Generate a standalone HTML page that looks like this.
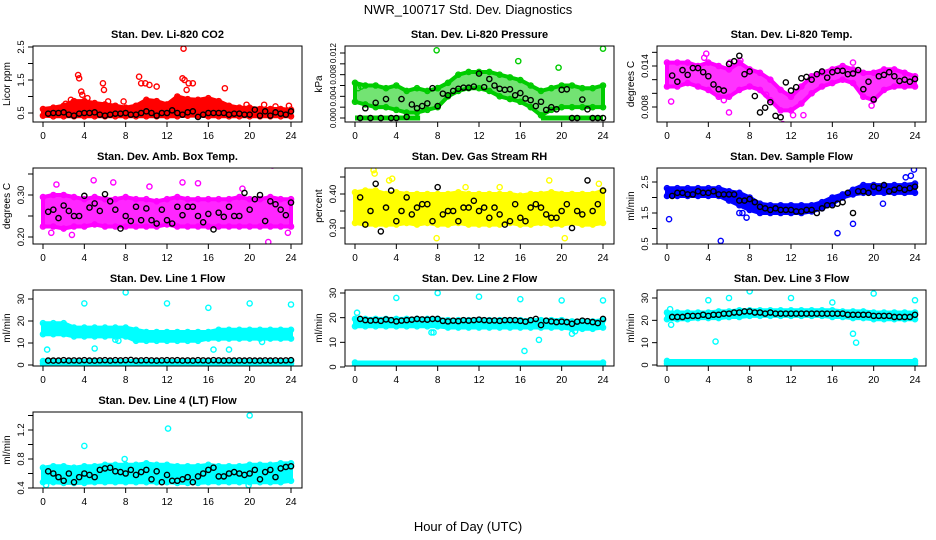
<!DOCTYPE html>
<html><head><meta charset="utf-8">
<style>
body{margin:0;background:#fff;}
svg{display:block;font-family:"Liberation Sans",sans-serif;}
</style></head>
<body>
<svg id="c" width="936" height="540" viewBox="0 0 936 540">
<rect width="936" height="540" fill="#fff"/>
<text x="468" y="14" text-anchor="middle" font-size="13">NWR_100717 Std. Dev. Diagnostics</text>
<text x="468" y="531" text-anchor="middle" font-size="13">Hour of Day (UTC)</text>
</svg>
<script>
const H25=[0,1,2,3,4,5,6,7,8,9,10,11,12,13,14,15,16,17,18,19,20,21,22,23,24];
const HB=[0.5,1,1.5,2,2.5,3,3.5,4,4.5,5,5.5,6,6.5,7,7.5,8,8.5,9,9.5,10,10.5,11,11.5,12,12.5,13,13.5,14,14.5,15,15.5,16,16.5,17,17.5,18,18.5,19,19.5,20,20.5,21,21.5,22,22.5,23,23.5,24];
const xTicks=[0,4,8,12,16,20,24];

// P1 CO2
const co2Hi=[.62,.66,.72,.86,.86,.8,.76,.72,.66,.72,.9,.86,.76,1.0,.92,.9,.95,.86,.72,.66,.66,.62,.62,.62,.6];
const co2Lo=[.42,.4,.4,.4,.4,.4,.4,.4,.4,.4,.4,.4,.4,.4,.42,.42,.4,.4,.4,.4,.4,.4,.4,.4,.4];
const co2OutX=[3.4,3.5,3.7,3.8,4.3,5.8,5.9,6.3,7.8,9.3,9.5,9.9,10.3,11,13.6,13.5,13.7,13.9,14.1,14.5,17.6,19.7,21.4,22.5,23.8,2.2,2.7];
const co2OutY=[1.65,1.55,1.15,1.05,.95,1.4,1.2,.85,.85,1.6,1.4,1.4,1.35,1.3,2.45,1.55,1.5,1.2,1.4,1.4,1.25,.75,.75,.7,.72,.78,.9];
const co2Blk=[.48,.5,.5,.52,.45,.42,.48,.5,.5,.52,.45,.42,.45,.48,.48,.5,.45,.45,.5,.55,.5,.42,.5,.5,.58,.5,.45,.52,.55,.38,.45,.5,.5,.5,.5,.45,.48,.48,.45,.45,.6,.42,.55,.42,.52,.48,.45,.55];
// P2 pressure
const prHi=[.0065,.006,.006,.0055,.006,.005,.0055,.005,.0055,.0065,.008,.0085,.0085,.0085,.008,.0075,.007,.006,.005,.0055,.006,.006,.0055,.0055,.006];
const prLo=[.003,.0025,.002,.002,.0015,.001,.001,.0015,.002,.004,.005,.0055,.0055,.005,.004,.0035,.003,.002,.0005,.0015,.002,.002,.002,.002,.002];
const prZeroH=[0,6.3,18,24];
const prOutX=[7.9,15.8,19.7,24,0.3,8,0.6];
const prOutY=[.0125,.0105,.0093,.0128,.0055,.0055,.0058];
const prBlk=[0,.0018,0,.0028,0,.0035,0,0,.0035,.0002,.0025,.0018,.0022,.0027,.0055,.0022,.0045,.0042,.005,.0054,.0056,.0056,.0058,.0082,.0057,.0072,.006,.0054,.0052,.0053,.0042,.0046,.0036,.0033,.0022,.003,.0015,.002,.0016,.0052,.0053,0,0,.0034,.0016,0,0,0];
// P3 Li-820 temp
const tHi=[.0145,.0145,.0145,.014,.0145,.014,.0135,.0145,.0135,.013,.012,.0105,.0095,.011,.0125,.013,.0135,.014,.0135,.013,.013,.0135,.0135,.013,.0125];
const tLo=[.011,.011,.0115,.011,.0105,.0095,.0095,.0105,.011,.0105,.009,.0075,.0075,.0085,.01,.011,.0115,.012,.0115,.0095,.009,.0105,.011,.011,.011];
const tOutX=[.4,3.8,6.1,6,7.1,11.2,12.2,9.6,13.2,19.8,18,3.6,5.5];
const tOutY=[.0088,.0158,.0145,.0072,.0148,.0055,.0068,.0098,.0068,.0082,.0145,.0152,.009];
const tBlk=[.0126,.0117,.0134,.0127,.0137,.0137,.0131,.0125,.0113,.0106,.0104,.0143,.0147,.0155,.0128,.0132,.0096,.0072,.0079,.0087,.0067,.0065,.0116,.0104,.0109,.0122,.0124,.012,.0128,.0132,.0123,.0131,.0133,.0133,.0128,.0129,.0134,.0106,.0117,.0091,.0125,.0127,.0131,.0125,.0118,.012,.0117,.0121];
// P4 amb box temp
const aHi=[.295,.3,.3,.295,.29,.295,.29,.29,.295,.29,.29,.285,.29,.295,.29,.29,.29,.29,.29,.295,.29,.29,.295,.29,.29];
const aLo=[.225,.225,.22,.225,.225,.23,.225,.225,.225,.225,.225,.225,.23,.225,.225,.225,.225,.225,.225,.225,.225,.225,.225,.225,.225];
const aOutX=[.8,1.3,4.9,13.5,15,21.8,22.2,23.7,2.8,6.8,10.3,19.3];
const aOutY=[.21,.325,.335,.33,.328,.188,.37,.21,.205,.33,.32,.315];
const aBlk=[.26,.265,.245,.275,.262,.25,.25,.298,.27,.28,.262,.302,.285,.265,.22,.25,.238,.272,.24,.268,.24,.232,.265,.24,.232,.272,.252,.272,.272,.25,.235,.255,.218,.258,.248,.272,.25,.25,.305,.265,.29,.3,.238,.285,.278,.265,.252,.282];
// P5 RH
const rhHi=[.405,.41,.41,.4,.405,.4,.4,.4,.4,.4,.405,.4,.4,.4,.4,.4,.395,.4,.4,.405,.4,.4,.4,.4,.41];
const rhLo=[.315,.31,.31,.31,.31,.315,.31,.315,.31,.31,.315,.31,.31,.31,.31,.315,.31,.31,.315,.31,.31,.315,.31,.31,.315];
const rhOutX=[1.8,1.9,3.3,10.7,14,18.8,7.9,20.3,3.6,23.6];
const rhOutY=[.47,.46,.44,.42,.42,.44,.27,.27,.445,.43];
const rhBlk=[.39,.31,.35,.43,.29,.36,.41,.32,.35,.39,.34,.36,.37,.37,.32,.42,.34,.35,.35,.32,.36,.36,.38,.35,.36,.33,.36,.34,.31,.32,.37,.33,.32,.36,.37,.36,.34,.33,.33,.35,.37,.30,.35,.34,.44,.35,.37,.41];
// P6 sample flow
const sfHi=[2.3,2.3,2.3,2.3,2.3,2.3,2.2,2.15,2.0,1.8,1.75,1.75,1.75,1.75,1.75,1.85,2.0,2.1,2.25,2.4,2.4,2.4,2.4,2.4,2.45];
const sfLo=[2.05,2.05,2.05,2.05,2.05,2.05,1.9,1.75,1.6,1.5,1.5,1.5,1.5,1.5,1.55,1.65,1.8,2.0,2.1,2.15,2.15,2.15,2.15,2.15,2.15];
const sfOutX=[.2,5.2,16.5,18,20.9,23.9,23.1,7.7,7,7.3,23.6];
const sfOutY=[1.3,.6,.85,1.15,1.8,2.9,2.65,1.35,1.5,1.5,2.7];
const sfBlk=[2.05,2.15,2.15,2.1,2.1,2.2,2.15,2.15,2.2,2.1,2.1,2.1,2.1,1.9,1.9,1.95,1.85,1.7,1.65,1.6,1.65,1.6,1.6,1.6,1.55,1.55,1.6,1.6,1.5,1.65,1.75,1.75,1.8,1.85,2.15,1.5,2.2,2.2,2.15,2.35,2.3,2.4,2.2,2.25,2.3,2.25,2.3,2.35];
// P7 line 1
const l1Hi=[19,19,19,17,17,17,17,17,17,16,15,15,15,15,15,15,15,16,16,16,16,16,16,16,16];
const l1Lo=[14,14,14,13,13,13,13,13,13,11,11,11,11,11,11,11,12,12,12,12,12,12,12,12,12];
const l1StripH=[0,24];
const l1StripHi=[1.8,1.8];
const l1StripLo=[0.6,0.6];
const l1OutX=[.4,4,5,8,12,16,16.5,18,20,24,21.2,7,7.3];
const l1OutY=[7,28,7.5,33,28,26,7,7,28,27.5,10.5,11.5,11];
const l1Blk=[2,2,2,2.2,2,2.1,2,2.2,2,2,2.1,2.2,2,2.2,2.1,2.2,2.3,2,2.1,2.2,2.1,2,2.1,2.2,2.1,2.2,2,2.1,2,2.2,2.1,2,2.2,2.1,2,2.1,2,2.1,2,2.1,2,2,2.1,2,2.1,2,2.1,2.2];
// P8 line 2
const l2Hi=[19.5,19.5,19.5,19.5,19.5,19.5,19.5,19.5,19.5,19,19,19,19,19,19,19,19,19,19,19,19,18.5,18.5,18.5,19];
const l2Lo=[16.5,16.5,16.5,16.5,16.5,16.5,16.5,16.5,16.5,16,16,16,16,16,16,16,16,16,16,16,16,15.5,15.5,15.5,16];
const l2StripH=[0,24];
const l2StripHi=[1.8,1.8];
const l2StripLo=[0.6,0.6];
const l2OutX=[.2,4,8,12,16,16.4,17.8,20,24,7.4,7.6,21,21.3];
const l2OutY=[22,28,30,28.5,27.5,6.5,11,27,27,14,14,13.5,14.5];
const l2Blk=[19.5,19,18.8,19,18.7,19.3,19,18.5,18.8,19,19.2,19.5,19.3,19.2,19.5,19.5,18.7,18.5,18.8,18.6,19,18.8,19,19.2,19,18.8,18.9,18.7,19,19,19,18.7,18.4,19,19.5,17,18.8,18.5,18.2,18.4,18.2,17.5,18.4,18.8,18.6,18.2,17.8,19.5];
// P9 line 3
const l3Hi=[23.5,23.5,23.5,23.5,23.5,24,24,24.5,24.5,24.5,24.5,24.5,24.5,24.5,24.5,24.5,24.5,24,24,24,23.5,23.5,23.5,23.5,23.5];
const l3Lo=[20.5,20.5,20.5,21,21,21,21.5,21.5,22,22,22,22,22,22,22,22,21.5,21.5,21,21,20.5,20.5,20.5,20.5,20.5];
const l3StripH=[0,24];
const l3StripHi=[1.8,1.8];
const l3StripLo=[0.6,0.6];
const l3OutX=[4,6,8,12,16,4.7,18,18.3,20,24,.3,.4];
const l3OutY=[29,30,33,30,28,10.5,14,10,32,29,25,18];
const l3Blk=[21.5,21.5,21.5,22,22,22,22.5,22,22.5,22.5,23,23,23.5,23.5,24,24,23.5,23.5,23,23.5,23,23,23,23,23,23,23,23,23,23,23,23,23,23,22.5,22.5,22.5,22.5,22.5,22,22,22,22,21.5,21.5,21.5,21.5,22.5];
// P10 line 4
const l4Hi=[.68,.7,.7,.68,.7,.7,.72,.72,.72,.72,.74,.72,.72,.7,.7,.7,.72,.7,.7,.7,.72,.72,.72,.74,.74];
const l4Lo=[.48,.48,.47,.47,.47,.48,.48,.48,.48,.48,.48,.48,.48,.47,.47,.47,.48,.48,.48,.48,.48,.48,.48,.48,.5];
const l4OutX=[4,12.1,20,7.9,.3,19.9];
const l4OutY=[.98,1.22,1.4,.8,.44,.44];
const l4Blk=[.63,.6,.55,.5,.6,.48,.55,.6,.58,.55,.65,.67,.68,.63,.62,.6,.65,.58,.62,.65,.52,.63,.48,.58,.5,.5,.52,.55,.48,.56,.6,.65,.68,.56,.56,.6,.62,.6,.58,.6,.65,.52,.62,.65,.55,.67,.69,.7];

const svg=document.getElementById('c');
const NS='http://www.w3.org/2000/svg';
function mk(tag,attrs,parent){const e=document.createElementNS(NS,tag);for(const k in attrs)e.setAttribute(k,attrs[k]);(parent||svg).appendChild(e);return e;}

const colLeft=[33,345,657], rowTop=[46,168,290,412], BW=269, BH=76;
const panels=[
 {id:'co2',t:'Stan. Dev. Li-820 CO2',yl:'Licor ppm',c:'#ff0000',op:1,fs:9.5,r:0,cl:0,v1:.5,p1:67,v2:2.5,p2:1,ticks:[.5,1,1.5,2,2.5],lab:{'0.5':'0.5','1.5':'1.5','2.5':'2.5'},hi:co2Hi,lo:co2Lo,ox:co2OutX,oy:co2OutY,blk:co2Blk},
 {id:'pressure',t:'Stan. Dev. Li-820 Pressure',yl:'kPa',c:'#00cc00',op:0.55,fs:8,r:0,cl:1,v1:0,p1:72,v2:.012,p2:7,ticks:[0,.002,.004,.006,.008,.01,.012],lab:{'0':'0.000','0.004':'0.004','0.008':'0.008','0.012':'0.012'},hi:prHi,lo:prLo,ox:prOutX,oy:prOutY,blk:prBlk,zero:prZeroH},
 {id:'li820-temp',t:'Stan. Dev. Li-820 Temp.',yl:'degrees C',c:'#ff00ff',op:0.8,fs:9.5,r:0,cl:2,v1:.014,p1:20,v2:.008,p2:61,ticks:[.008,.01,.012,.014,.016],lab:{'0.008':'0.008','0.014':'0.014'},hi:tHi,lo:tLo,ox:tOutX,oy:tOutY,blk:tBlk},
 {id:'amb-box-temp',t:'Stan. Dev. Amb. Box Temp.',yl:'degrees C',c:'#ff00ff',op:0.85,fs:9.5,r:1,cl:0,v1:.3,p1:27,v2:.2,p2:69,ticks:[.2,.25,.3,.35],lab:{'0.2':'0.20','0.3':'0.30'},hi:aHi,lo:aLo,ox:aOutX,oy:aOutY,blk:aBlk},
 {id:'gas-rh',t:'Stan. Dev. Gas Stream RH',yl:'percent',c:'#ffff00',op:1,fs:9.5,r:1,cl:1,v1:.4,p1:26,v2:.3,p2:60,ticks:[.3,.35,.4,.45],lab:{'0.3':'0.30','0.4':'0.40'},hi:rhHi,lo:rhLo,ox:rhOutX,oy:rhOutY,blk:rhBlk},
 {id:'sample-flow',t:'Stan. Dev. Sample Flow',yl:'ml/min',c:'#0000ff',op:1,fs:9.5,r:1,cl:2,v1:2.5,p1:14,v2:.5,p2:76,ticks:[.5,1,1.5,2,2.5],lab:{'0.5':'0.5','1.5':'1.5','2.5':'2.5'},hi:sfHi,lo:sfLo,ox:sfOutX,oy:sfOutY,blk:sfBlk},
 {id:'line1-flow',t:'Stan. Dev. Line 1 Flow',yl:'ml/min',c:'#00ffff',op:1,fs:9.5,r:2,cl:0,v1:0,p1:75,v2:30,p2:9,ticks:[0,10,20,30],lab:{'0':'0','10':'10','20':'20','30':'30'},hi:l1Hi,lo:l1Lo,ox:l1OutX,oy:l1OutY,blk:l1Blk,sH:l1StripH,sHi:l1StripHi,sLo:l1StripLo},
 {id:'line2-flow',t:'Stan. Dev. Line 2 Flow',yl:'ml/min',c:'#00ffff',op:1,fs:9.5,r:2,cl:1,v1:0,p1:77,v2:30,p2:3,ticks:[0,10,20,30],lab:{'0':'0','10':'10','20':'20','30':'30'},hi:l2Hi,lo:l2Lo,ox:l2OutX,oy:l2OutY,blk:l2Blk,sH:l2StripH,sHi:l2StripHi,sLo:l2StripLo},
 {id:'line3-flow',t:'Stan. Dev. Line 3 Flow',yl:'ml/min',c:'#00ffff',op:1,fs:9.5,r:2,cl:2,v1:0,p1:75,v2:30,p2:8,ticks:[0,10,20,30],lab:{'0':'0','10':'10','20':'20','30':'30'},hi:l3Hi,lo:l3Lo,ox:l3OutX,oy:l3OutY,blk:l3Blk,sH:l3StripH,sHi:l3StripHi,sLo:l3StripLo},
 {id:'line4-flow',t:'Stan. Dev. Line 4 (LT) Flow',yl:'ml/min',c:'#00ffff',op:1,fs:9.5,r:3,cl:0,v1:.4,p1:76,v2:1.2,p2:18,ticks:[.4,.6,.8,1,1.2,1.4],lab:{'0.4':'0.4','0.8':'0.8','1.2':'1.2'},hi:l4Hi,lo:l4Lo,ox:l4OutX,oy:l4OutY,blk:l4Blk}
];

panels.forEach(p=>{
 const L=colLeft[p.cl], T=rowTop[p.r];
 const xs=h=>L+10+h*(248/24);
 const ys=v=>T+p.p1+(v-p.v1)*(p.p2-p.p1)/(p.v2-p.v1);
 const g=mk('g',{});
 
 
 const ti=mk('text',{x:L+BW/2,y:T-8,'text-anchor':'middle','font-size':'11','font-weight':'bold'},g);ti.textContent=p.t;
 
 
 const clip='cl'+p.id;
 const cp=mk('clipPath',{id:clip},g);mk('rect',{x:L,y:T,width:BW,height:BH},cp);
 const data=mk('g',{'clip-path':'url(#'+clip+')'},g);
 
 
 function band(H,hi,lo,name,op){
  let pts=H.map((h,i)=>xs(h)+','+ys(hi[i])).concat(H.map((h,i)=>xs(h)+','+ys(lo[i])).reverse()).join(' ');
  const pg=mk('polygon',{points:pts,fill:p.c,'fill-opacity':op,stroke:p.c,'stroke-width':4,'stroke-linejoin':'round'},data);
  
  
  H.forEach((h,i)=>{[hi[i],lo[i]].forEach(v=>{
   const c=mk('circle',{cx:xs(h),cy:ys(v),r:2.6,fill:'none',stroke:p.c,'stroke-width':1.4},data);
   
   
  });});
 }
 band(H25,p.hi,p.lo,'point-cloud',p.op);
 if(p.sH) band(p.sH,p.sHi,p.sLo,'low-point-strip',1);
 if(p.zero){for(let k=0;k<p.zero.length;k+=2){
  const ln=mk('line',{x1:xs(p.zero[k]),x2:xs(p.zero[k+1]),y1:ys(0),y2:ys(0),stroke:p.c,'stroke-width':5},data);
  
  
 }}
 p.ox.forEach((h,i)=>{
  const c=mk('circle',{cx:xs(h),cy:ys(p.oy[i]),r:2.6,fill:'none',stroke:p.c,'stroke-width':1.4},data);
  
  
 });
 HB.forEach((h,i)=>{
  const c=mk('circle',{cx:xs(h),cy:ys(p.blk[i]),r:2.6,fill:'none',stroke:'#000','stroke-width':1.4},data);
  
  
 });
 const box=mk('rect',{x:L,y:T,width:BW,height:BH,fill:'none',stroke:'#000','stroke-width':1},g);
 
 
 xTicks.forEach(t=>{
  mk('line',{x1:xs(t),x2:xs(t),y1:T+BH,y2:T+BH+5,stroke:'#000'},g);
  const tx=mk('text',{x:xs(t),y:T+BH+17,'text-anchor':'middle','font-size':'10'},g);tx.textContent=t;
  
  
 });
 p.ticks.forEach(t=>{
  const y=ys(t);
  mk('line',{x1:L-5,x2:L,y1:y,y2:y,stroke:'#000'},g);
  const key=String(+t.toFixed(4));
  if(p.lab[key]!==undefined){
   const tx=mk('text',{x:L-9,y:y,'text-anchor':'middle','font-size':p.fs,transform:'rotate(-90 '+(L-9)+' '+y+')'},g);tx.textContent=p.lab[key];
   
   
  }
 });
 const yl=mk('text',{x:L-23,y:T+BH/2,'text-anchor':'middle','font-size':'10',transform:'rotate(-90 '+(L-23)+' '+(T+BH/2)+')'},g);yl.textContent=p.yl;
 
 
});
</script>
</body></html>
